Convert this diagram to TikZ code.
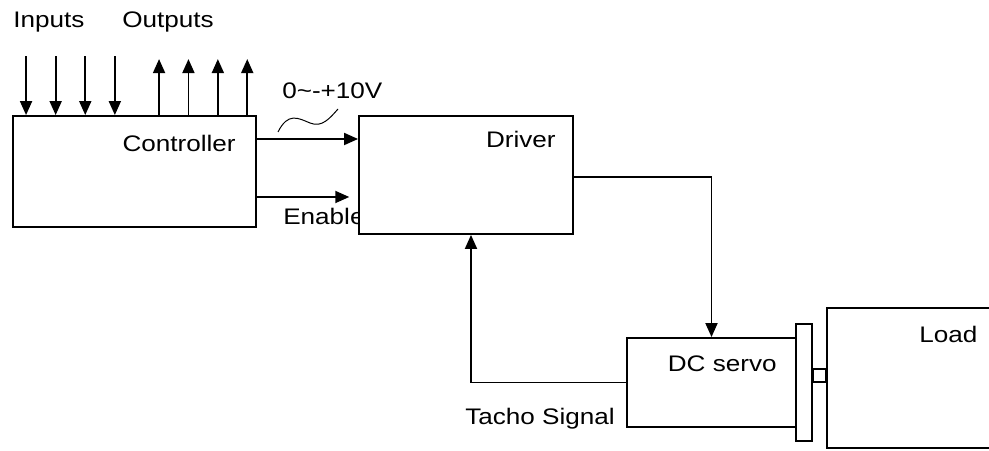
\documentclass[tikz,border=0pt]{standalone}
\usepackage{fontspec}
\setmainfont{Liberation Sans}[FakeStretch=1.16]
\usetikzlibrary{arrows.meta, positioning, calc}
\tikzset{
	blockbox/.style={draw, line width=1.3pt, fill=white, inner sep=0pt},
	flowarr/.style={-{Triangle[length=0.35cm, width=0.3cm]}, line width=1.3pt},
	txtlbl/.style={font=\fontsize{16}{19}\selectfont, inner sep=0pt},
}
\begin{document}
\begin{tikzpicture}[x=0.025cm, y=-0.025cm]
	\useasboundingbox (0,0) rectangle (989,451);
	\clip (0,0) rectangle (989,451);
	% free labels
	\node[txtlbl, anchor=base west] (inlbl) at (13,28) {Inputs};
	\node[txtlbl, anchor=base west] (outlbl) at (122,28) {Outputs};
	\node[txtlbl, anchor=base west] (vlbl) at (282,99) {0\textasciitilde-+10V};
	\node[txtlbl, anchor=base west] (enlbl) at (283,225) {Enable};
	\node[txtlbl, anchor=base west] (tacholbl) at (465,425) {Tacho Signal};
	% blocks
	\node[blockbox, minimum width=6.075cm, minimum height=2.775cm] (ctrl) at (134.5,171.5) {};
	\node[blockbox, minimum width=5.35cm, minimum height=2.95cm] (drv) at (466,175) {};
	\node[blockbox, minimum width=4.225cm, minimum height=2.225cm] (srv) at (711.5,382.5) {};
	\node[blockbox, minimum width=0.4cm, minimum height=2.925cm] (flange) at (804,382.5) {};
	\node[blockbox, minimum width=5cm, minimum height=3.5cm] (load) at (927,378) {};
	\draw[line width=1.3pt] (flange.east |- 0,369) rectangle (load.west |- 0,382);
	\node[txtlbl, anchor=base east] (ctrltxt) at ($(ctrl.north east)+(-21,36)$) {Controller};
	\node[txtlbl, anchor=base east] (drvtxt) at ($(drv.north east)+(-18,32)$) {Driver};
	\node[txtlbl, anchor=base east] (srvtxt) at ($(srv.north east)+(-20,34)$) {DC servo};
	\node[txtlbl, anchor=base west] (loadtxt) at ($(load.north west)+(93,35)$) {Load};
	% inputs and outputs
	\foreach \i in {0,...,3} {
		\coordinate (in\i) at ($(ctrl.north west)+(14+29.6*\i,-59)$);
		\draw[flowarr] (in\i) -- (in\i |- ctrl.north);
		\coordinate (out\i) at ($(ctrl.north west)+(147+29.4*\i,-56)$);
		\draw[flowarr] (out\i |- ctrl.north) -- (out\i);
	}
	% signals
	\coordinate (sig) at (0,139);
	\coordinate (en) at (0,197);
	\coordinate (drvout) at (0,177);
	\coordinate (tk) at (471,0);
	\draw[flowarr] (ctrl.east |- sig) -- (drv.west |- sig);
	\draw[flowarr, shorten >=0.22cm] (ctrl.east |- en) -- (drv.west |- en);
	\draw[flowarr] (drv.east |- drvout) -| (srv.north);
	\draw[flowarr] (srv.west) -| (drv.south -| tk);
	\draw[line width=0.7pt] (278,132) .. controls (288,112) and (298,118) .. (310,123) .. controls (322,128) and (330,118) .. (338,109);
\end{tikzpicture}
\end{document}
